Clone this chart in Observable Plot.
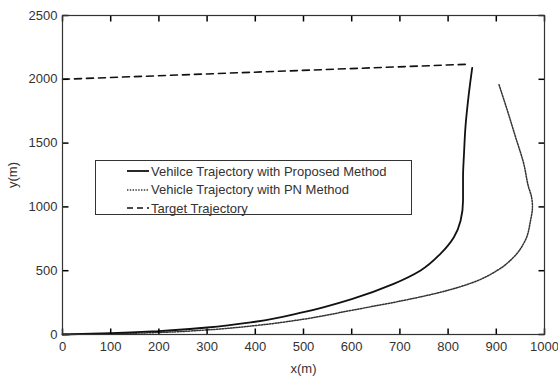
<!DOCTYPE html>
<html>
<head>
<meta charset="utf-8">
<script src="https://cdn.jsdelivr.net/npm/d3@7"></script>
<script src="https://cdn.jsdelivr.net/npm/@observablehq/plot@0.6"></script>
<style>
  html, body { margin: 0; padding: 0; background: #fff; }
  #wrap { position: relative; width: 558px; height: 378px; font-family: "Liberation Sans", Arial, sans-serif; }
  #legend { position: absolute; left: 95px; top: 160px; width: 317px; height: 55px; border: 1px solid #333; background: #fff; box-sizing: border-box; color: #333; font-size: 13px; }
  .row { position: absolute; left: 31px; height: 18px; display: flex; align-items: center; }
  .row svg { margin-right: 1px; }
</style>
</head>
<body>
<div id="wrap"></div>
<script>
// Vehicle trajectory with proposed method (solid)
const proposedX = [0, 100, 200, 300, 400, 500, 600, 687, 743, 784, 812, 826, 831, 831, 833, 836, 843, 850];
const proposedY = [0, 10, 27, 55, 100, 175, 278, 397, 502, 632, 762, 893, 1050, 1233, 1416, 1625, 1886, 2090];
// Vehicle trajectory with PN method (dotted)
const pnX = [0, 100, 200, 300, 400, 500, 600, 701, 784, 853, 902, 936, 960, 971, 975, 973, 967, 957, 940, 923, 905];
const pnY = [0, 6, 16, 36, 70, 120, 190, 262, 331, 410, 502, 606, 737, 893, 1000, 1080, 1155, 1338, 1547, 1755, 1965];
// Target trajectory (dashed)
const targetX = [0, 842];
const targetY = [2000, 2118];
// Ticks
const xTicks = [0, 100, 200, 300, 400, 500, 600, 700, 800, 900, 1000];
const yTicks = [0, 500, 1000, 1500, 2000, 2500];
const legendLabels = ["Vehilce Trajectory with Proposed Method", "Vehicle Trajectory with PN Method", "Target Trajectory"];

const proposed = proposedX.map((x, i) => ({x, y: proposedY[i]}));
const pn = pnX.map((x, i) => ({x, y: pnY[i]}));
const target = targetX.map((x, i) => ({x, y: targetY[i]}));

const W = 558, H = 378, ML = 62, MR = 14, MT = 15, MB = 44, TICK = 6;
const xDomain = [0, 1000], yDomain = [0, 2500];
const frameW = W - ML - MR, frameH = H - MT - MB;
const ink = "#333";
const fmt = d => String(d);
const tx = TICK * (xDomain[1] - xDomain[0]) / frameW;
const ty = TICK * (yDomain[1] - yDomain[0]) / frameH;
const bottomTicks = xTicks.map(v => ({x: v, y1: yDomain[0], y2: yDomain[0] + ty}));
const topTicks = xTicks.map(v => ({x: v, y1: yDomain[1] - ty, y2: yDomain[1]}));
const leftTicks = yTicks.map(v => ({y: v, x1: xDomain[0], x2: xDomain[0] + tx}));
const rightTicks = yTicks.map(v => ({y: v, x1: xDomain[1] - tx, x2: xDomain[1]}));
const chart = Plot.plot({
  width: W,
  height: H,
  marginLeft: ML,
  marginRight: MR,
  marginTop: MT,
  marginBottom: MB,
  style: {fontFamily: "'Liberation Sans', Arial, sans-serif", fontSize: "13px", color: ink, background: "#fff"},
  x: {domain: xDomain, ticks: xTicks},
  y: {domain: yDomain, ticks: yTicks},
  marks: [
    Plot.line(target, {x: "x", y: "y", stroke: "#111", strokeWidth: 1.6, strokeDasharray: "7,5"}),
    Plot.line(pn, {x: "x", y: "y", curve: "monotone-y", stroke: "#333", strokeWidth: 1.5, strokeDasharray: "1.4,1.4"}),
    Plot.line(proposed, {x: "x", y: "y", curve: "monotone-y", stroke: "#111", strokeWidth: 1.8}),
    Plot.axisX(xTicks, {anchor: "bottom", tickSize: 0, tickPadding: 7, tickFormat: fmt, label: "x(m)", labelAnchor: "center", labelArrow: "none", labelOffset: 38, fontSize: 13, color: ink}),
    Plot.axisY(yTicks, {anchor: "left", tickSize: 0, tickPadding: 5, tickFormat: fmt, label: "y(m)", labelAnchor: "center", labelArrow: "none", labelOffset: 55, fontSize: 13, color: ink}),
    Plot.link(bottomTicks, {x1: "x", x2: "x", y1: "y1", y2: "y2", stroke: "#000", strokeWidth: 1.5}),
    Plot.link(topTicks, {x1: "x", x2: "x", y1: "y1", y2: "y2", stroke: "#000", strokeWidth: 1.5}),
    Plot.link(leftTicks, {x1: "x1", x2: "x2", y1: "y", y2: "y", stroke: "#000", strokeWidth: 1.5}),
    Plot.link(rightTicks, {x1: "x1", x2: "x2", y1: "y", y2: "y", stroke: "#000", strokeWidth: 1.5}),
    Plot.frame({stroke: ink, strokeWidth: 1.2})
  ]
});
const wrap = document.getElementById("wrap");
wrap.appendChild(chart);

// Legend
const legend = document.createElement("div");
legend.id = "legend";
const samples = [
  `<line x1="0" y1="4" x2="22" y2="4" stroke="#111" stroke-width="1.8"/>`,
  `<line x1="0" y1="4" x2="22" y2="4" stroke="#333" stroke-width="1.5" stroke-dasharray="1.4,1.4"/>`,
  `<line x1="0" y1="4" x2="22" y2="4" stroke="#111" stroke-width="1.6" stroke-dasharray="6,4"/>`
];
legendLabels.forEach((t, i) => {
  const row = document.createElement("div");
  row.className = "row";
  row.style.top = (1 + i * 18.5) + "px";
  row.innerHTML = `<svg width="23" height="8">${samples[i]}</svg><span>${t}</span>`;
  legend.appendChild(row);
});
wrap.appendChild(legend);
</script>
</body>
</html>
